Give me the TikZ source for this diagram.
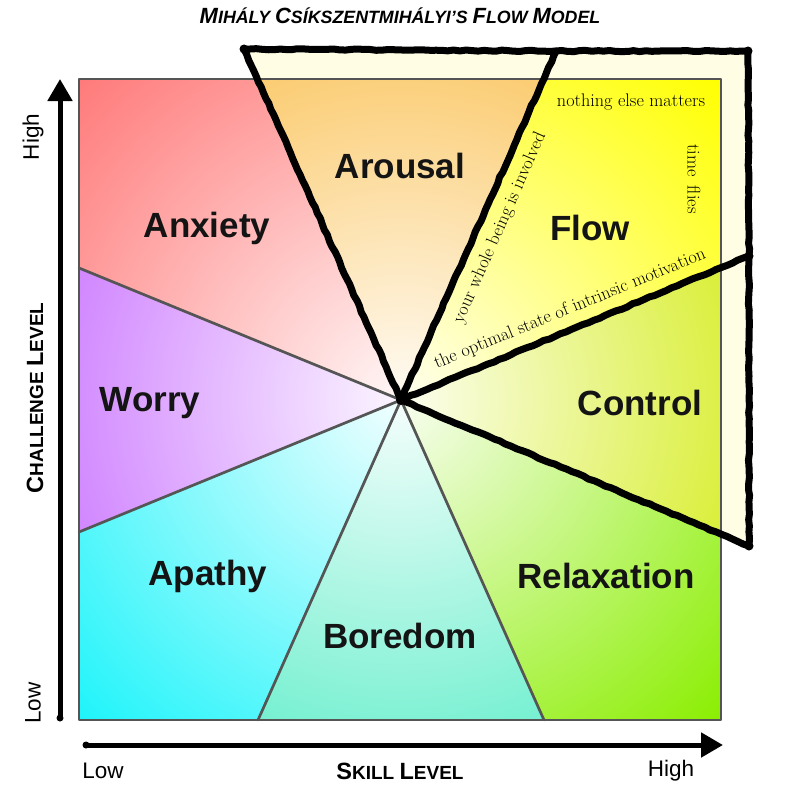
\documentclass[tikz,border=0pt]{standalone}
\usepackage{fontspec}
\newfontfamily\lsans{Liberation Sans}
\usetikzlibrary{arrows.meta,decorations.pathmorphing}
\definecolor{cream}{RGB}{255,253,228}
\definecolor{cAnx}{RGB}{255,122,122}
\definecolor{cAro}{RGB}{250,190,75}
\definecolor{cFlo}{RGB}{255,255,0}
\definecolor{cCon}{RGB}{207,234,0}
\definecolor{cRel}{RGB}{138,238,0}
\definecolor{cBor}{RGB}{80,236,196}
\definecolor{cApa}{RGB}{30,244,250}
\definecolor{cWor}{RGB}{196,100,255}
\definecolor{grayline}{RGB}{85,85,85}
\newcommand\mkshade[1]{\pgfdeclareradialshading{sh#1}{\pgfpoint{0bp}{0bp}}{color(0bp)=(c#1!6!white); color(453bp)=(c#1); color(460bp)=(c#1)}}
\mkshade{Anx}\mkshade{Aro}\mkshade{Flo}\mkshade{Con}
\mkshade{Rel}\mkshade{Bor}\mkshade{Apa}\mkshade{Wor}
\newcommand\tsc[2]{{\fontsize{22}{22}\selectfont #1}{\fontsize{17.8}{17.8}\selectfont #2}}
\newcommand\asc[2]{{\fontsize{23.5}{24}\selectfont #1}{\fontsize{19}{19}\selectfont #2}}
\newcommand\sectorfill[2]{\begin{scope}\clip #1;\pgftext[at=\pgfpointanchor{C}{center}]{\pgfuseshading{sh#2}}\end{scope}}
\tikzset{
  lab/.style={font=\lsans\bfseries\fontsize{35}{38}\selectfont, text=black!92},
  note/.style={font=\fontsize{18.2}{19}\selectfont, inner sep=0pt},
  axlab/.style={font=\lsans\fontsize{22.5}{24}\selectfont, inner sep=0pt},
  axtitle/.style={font=\lsans\bfseries\fontsize{19}{19}\selectfont, inner sep=0pt},
  gline/.style={draw=grayline, line width=2.7pt, line join=round, line cap=round},
  bline/.style={draw=black, line width=7pt, line join=round, line cap=round,
    decorate, decoration={random steps,segment length=6pt,amplitude=0.6pt}},
  axisline/.style={draw=black, line width=5pt, -{Triangle[length=22pt,width=24pt]}},
}
\begin{document}
\begin{tikzpicture}[x=1pt,y=-1pt]
\useasboundingbox (0,0) rectangle (800,800);
\fill[white] (0,0) rectangle (800,800);
% key points
\coordinate (C) at (401,400);
\coordinate (TL) at (79,79); \coordinate (TR) at (721,79);
\coordinate (BR) at (721,720); \coordinate (BL) at (79,720);
\coordinate (T1) at (258,79); \coordinate (T2) at (544,79);
\coordinate (R1) at (721,268); \coordinate (R2) at (721,532);
\coordinate (B2) at (544,720); \coordinate (B1) at (258,720);
\coordinate (L2) at (79,532); \coordinate (L1) at (79,268);
\coordinate (A) at (244,49); \coordinate (B) at (556,51);
\coordinate (D) at (748,51); \coordinate (E) at (749,256);
\coordinate (F) at (749,546);
% cream background of thick outline
\fill[cream] (A) -- (B) -- (D) -- (F) -- (C) -- cycle;
% sectors
\sectorfill{(C) -- (L1) -- (TL) -- (T1) -- cycle}{Anx}
\sectorfill{(C) -- (T1) -- (T2) -- cycle}{Aro}
\sectorfill{(C) -- (T2) -- (TR) -- (R1) -- cycle}{Flo}
\sectorfill{(C) -- (R1) -- (R2) -- cycle}{Con}
\sectorfill{(C) -- (R2) -- (BR) -- (B2) -- cycle}{Rel}
\sectorfill{(C) -- (B2) -- (B1) -- cycle}{Bor}
\sectorfill{(C) -- (B1) -- (BL) -- (L2) -- cycle}{Apa}
\sectorfill{(C) -- (L2) -- (L1) -- cycle}{Wor}
% gray lines
\draw[gline] (TL) rectangle (BR);
\foreach \p in {T1,T2,R1,R2,B2,B1,L2,L1} \draw[gline] (C) -- (\p);
% thick outline
\draw[bline] (A) -- (B) -- (D) -- (E) -- (F);
\draw[bline] (A) -- (C);
\draw[bline] (B) -- (C);
\draw[bline] (E) -- (C);
\draw[bline] (F) -- (C);
\foreach \p in {A,D,E,F} \fill (\p) circle (4.5);
\fill (C) circle (5);
% region labels
\node[lab] (arousal) at (400,166) {Arousal};
\node[lab] (anxiety) at (207,228) {Anxiety};
\node[lab] (flow) at (590,228) {Flow};
\node[lab] (worry) at (150,403) {Worry};
\node[lab] (control) at (640,403) {Control};
\node[lab] (apathy) at (208,576) {Apathy};
\node[lab] (relax) at (606,576) {Relaxation};
\node[lab] (boredom) at (400,636) {Boredom};
% flow notes
\node[note] (n1) at (631,102) {nothing else matters};
\node[note, rotate=-90] (n2) at (694,179) {time\hspace{0.5em}flies};
\node[note, rotate=66.25] (n3) at (500,228) {your whole being is involved};
\node[note, rotate=22.25] (n4) at (570,309) {the optimal state of intrinsic motivation};
% axes
\coordinate (ya) at (60,718); \coordinate (yb) at (60,79);
\coordinate (xa) at (86,745); \coordinate (xb) at (723,745);
\draw[axisline] (ya) -- (yb);
\draw[axisline] (xa) -- (xb);
\fill (ya) circle (3.5);
\fill (xa) circle (3.5);
\node[axlab, rotate=90] (yhigh) at (33,137) {High};
\node[axlab, rotate=90] (ylow) at (33,703) {Low};
\node[axtitle, rotate=90] (ytitle) at (35,398) {\asc{C}{HALLENGE} \asc{L}{EVEL}};
\node[axlab] (xlow) at (103,771) {Low};
\node[axlab] (xhigh) at (671,771) {High};
\node[axtitle] (xtitle) at (400,771) {\asc{S}{KILL} \asc{L}{EVEL}};
% title
\node[font=\lsans\bfseries\itshape\fontsize{17.8}{17.8}\selectfont, inner sep=0pt] (title) at (400,16)
  {\tsc{M}{IHÁLY} \tsc{C}{SÍKSZENTMIHÁLYI’S} \tsc{F}{LOW} \tsc{M}{ODEL}};
\end{tikzpicture}
\end{document}
